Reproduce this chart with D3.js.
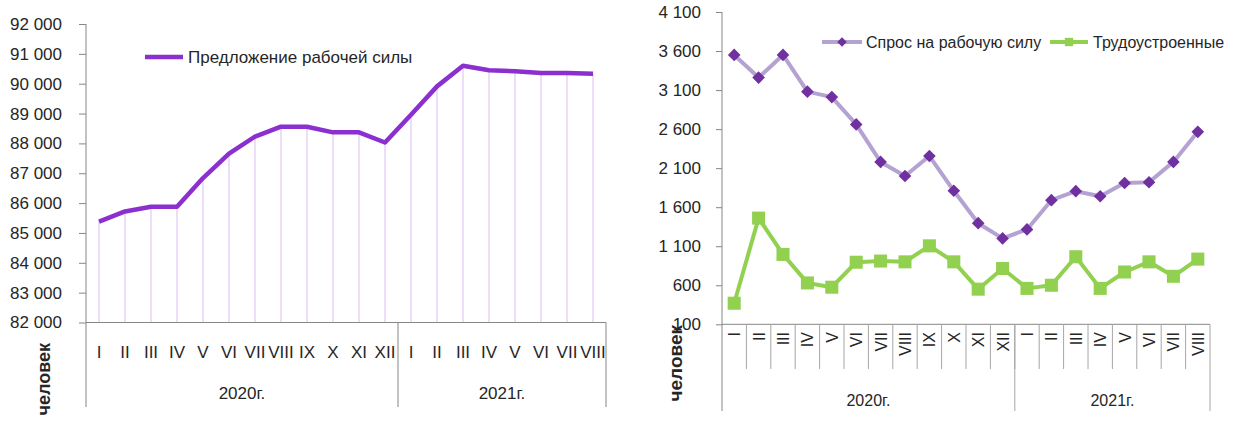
<!DOCTYPE html>
<html>
<head>
<meta charset="utf-8">
<script src="https://cdn.jsdelivr.net/npm/d3@7"></script>
<style>
body{margin:0;background:#fff;}
svg text{font-family:"Liberation Sans",Arial,sans-serif;fill:#262626;}
</style>
</head>
<body>
<svg id="chart" width="1236" height="423"></svg>
<script>
// months of each year and the year groups
var months2020 = ["I","II","III","IV","V","VI","VII","VIII","IX","X","XI","XII"];
var months2021 = ["I","II","III","IV","V","VI","VII","VIII"];
var yearLabels = ["2020г.", "2021г."];

// left chart: labour supply
var supply = [85380, 85720, 85880, 85880, 86840, 87660, 88230, 88560, 88560, 88370, 88370, 88030,
              88960, 89910, 90600, 90450, 90420, 90360, 90360, 90330];
var leftTicks = [82000, 83000, 84000, 85000, 86000, 87000, 88000, 89000, 90000, 91000, 92000];

// right chart: labour demand and employed
var demand = [3550, 3260, 3550, 3080, 3010, 2660, 2180, 2000, 2255, 1810, 1395, 1200,
              1315, 1690, 1805, 1740, 1910, 1920, 2180, 2565];
var employed = [370, 1460, 995, 630, 575, 895, 910, 900, 1105, 900, 550, 815,
                560, 600, 965, 560, 770, 900, 715, 935];
var rightTicks = [100, 600, 1100, 1600, 2100, 2600, 3100, 3600, 4100];

var cats = months2020.map(function(m){ return "2020 " + m; })
  .concat(months2021.map(function(m){ return "2021 " + m; }));
var monthOf = function(c){ return c.split(" ")[1]; };

var svg = d3.select("#chart");
var axisColor = "#868686";
var fmt = function(d){ return d3.format(",")(d).replace(/,/g, "\u00a0"); };

function yearGroups(x){
  var n1 = months2020.length;
  var b0 = x.range()[0], b1 = x(cats[n1]), b2 = x.range()[1];
  return [{label: yearLabels[0], x0: b0, x1: b1}, {label: yearLabels[1], x0: b1, x1: b2}];
}

/* ---------- left chart ---------- */
var xL = d3.scaleBand().domain(cats).range([86, 606]);
var yL = d3.scaleLinear().domain([82000, 92000]).range([322.5, 24]);
var gL = svg.append("g");
var cx = function(x){ return function(d, i){ return x(cats[i]) + x.bandwidth() / 2; }; };

// drop lines
gL.selectAll(".drop").data(supply).enter().append("line")
    .attr("x1", cx(xL)).attr("x2", cx(xL))
    .attr("y1", function(d){ return yL(d); })
    .attr("y2", yL(82000))
    .attr("stroke", "#e2ccf5")
    .attr("stroke-width", 1.3);

var axL = gL.append("g")
    .attr("transform", "translate(86,0)")
    .call(d3.axisLeft(yL).tickValues(leftTicks).tickSize(7).tickPadding(17).tickFormat(fmt));
axL.select(".domain").remove();
axL.selectAll(".tick line").attr("stroke", axisColor);
axL.selectAll(".tick text").style("font-size", "17px").attr("fill", "#262626");

gL.append("line").attr("x1", 86).attr("x2", 86).attr("y1", 24).attr("y2", 407).attr("stroke", axisColor);
gL.append("line").attr("x1", 86).attr("x2", 606).attr("y1", yL(82000)).attr("y2", yL(82000)).attr("stroke", axisColor);

yearGroups(xL).forEach(function(gr){
  gL.append("line").attr("x1", gr.x1).attr("x2", gr.x1).attr("y1", yL(82000)).attr("y2", 407).attr("stroke", axisColor);
  gL.append("text").attr("x", (gr.x0 + gr.x1) / 2).attr("y", 399)
    .attr("text-anchor", "middle").style("font-size", "17px").text(gr.label);
});

gL.selectAll(".mlab").data(cats).enter().append("text")
    .attr("x", function(d){ return xL(d) + xL.bandwidth() / 2; })
    .attr("y", 358)
    .attr("text-anchor", "middle")
    .style("font-size", "17px")
    .text(monthOf);

gL.append("path")
    .datum(supply)
    .attr("fill", "none")
    .attr("stroke", "#8b2fd0")
    .attr("stroke-width", 4.5)
    .attr("stroke-linejoin", "round")
    .attr("d", d3.line().x(cx(xL)).y(function(d){ return yL(d); }));

// legend
gL.append("line").attr("x1", 145).attr("x2", 183).attr("y1", 57).attr("y2", 57)
  .attr("stroke", "#8b2fd0").attr("stroke-width", 4.5);
gL.append("text").attr("x", 188).attr("y", 63).style("font-size", "17px").text("Предложение рабочей силы");

gL.append("text")
    .attr("transform", "translate(50,343) rotate(-90)")
    .attr("text-anchor", "end")
    .style("font-weight", "bold")
    .style("font-size", "18px")
    .text("человек");

/* ---------- right chart ---------- */
var xR = d3.scaleBand().domain(cats).range([722, 1210]);
var yR = d3.scaleLinear().domain([100, 4100]).range([324.3, 12]);
var gR = svg.append("g");

var axR = gR.append("g")
    .attr("transform", "translate(722,0)")
    .call(d3.axisLeft(yR).tickValues(rightTicks).tickSize(6).tickPadding(15).tickFormat(fmt));
axR.select(".domain").remove();
axR.selectAll(".tick line").attr("stroke", axisColor);
axR.selectAll(".tick text").style("font-size", "17px").attr("fill", "#262626");

gR.append("line").attr("x1", 722).attr("x2", 722).attr("y1", 12).attr("y2", 411).attr("stroke", axisColor);
gR.append("line").attr("x1", 722).attr("x2", 1210).attr("y1", yR(100)).attr("y2", yR(100)).attr("stroke", axisColor);

// category separators
gR.selectAll(".sep").data(cats.slice(1)).enter().append("line")
    .attr("x1", function(d){ return xR(d); }).attr("x2", function(d){ return xR(d); })
    .attr("y1", yR(100)).attr("y2", 369)
    .attr("stroke", "#a6a6a6");

yearGroups(xR).forEach(function(gr){
  gR.append("line").attr("x1", gr.x1).attr("x2", gr.x1).attr("y1", yR(100)).attr("y2", 411).attr("stroke", "#a6a6a6");
  gR.append("text").attr("x", (gr.x0 + gr.x1) / 2).attr("y", 406)
    .attr("text-anchor", "middle").style("font-size", "16px").text(gr.label);
});

gR.selectAll(".mlab").data(cats).enter().append("text")
    .attr("transform", function(d){ return "translate(" + (xR(d) + xR.bandwidth() / 2 + 6) + ",332) rotate(-90)"; })
    .attr("text-anchor", "end")
    .style("font-size", "16px")
    .text(monthOf);

var lineR = function(vals){
  return d3.line().x(cx(xR)).y(function(d){ return yR(d); })(vals);
};

gR.append("path").attr("d", lineR(demand)).attr("fill", "none")
  .attr("stroke", "#b4a3d2").attr("stroke-width", 4).attr("stroke-linejoin", "round");
gR.append("path").attr("d", lineR(employed)).attr("fill", "none")
  .attr("stroke", "#92d050").attr("stroke-width", 4).attr("stroke-linejoin", "round");

var diamond = d3.symbol().type(d3.symbolSquare).size(80);
var square = d3.symbol().type(d3.symbolSquare).size(170);

gR.selectAll(".dm").data(demand).enter().append("path")
    .attr("d", diamond)
    .attr("transform", function(d, i){ return "translate(" + cx(xR)(d, i) + "," + yR(d) + ") rotate(45)"; })
    .attr("fill", "#7030a0");
gR.selectAll(".sq").data(employed).enter().append("path")
    .attr("d", square)
    .attr("transform", function(d, i){ return "translate(" + cx(xR)(d, i) + "," + yR(d) + ")"; })
    .attr("fill", "#92d050");

// legend
gR.append("line").attr("x1", 822).attr("x2", 862).attr("y1", 42).attr("y2", 42)
  .attr("stroke", "#b4a3d2").attr("stroke-width", 4);
gR.append("path").attr("d", d3.symbol().type(d3.symbolSquare).size(45))
  .attr("transform", "translate(842,42) rotate(45)").attr("fill", "#7030a0");
gR.append("text").attr("x", 866).attr("y", 48).style("font-size", "16px").text("Спрос на рабочую силу");

gR.append("line").attr("x1", 1050).attr("x2", 1088).attr("y1", 42).attr("y2", 42)
  .attr("stroke", "#92d050").attr("stroke-width", 4);
gR.append("path").attr("d", d3.symbol().type(d3.symbolSquare).size(70))
  .attr("transform", "translate(1069,42)").attr("fill", "#92d050");
gR.append("text").attr("x", 1093).attr("y", 48).style("font-size", "16px").text("Трудоустроенные");

gR.append("text")
    .attr("transform", "translate(682,325) rotate(-90)")
    .attr("text-anchor", "end")
    .style("font-weight", "bold")
    .style("font-size", "19px")
    .text("человек");
</script>
</body>
</html>
